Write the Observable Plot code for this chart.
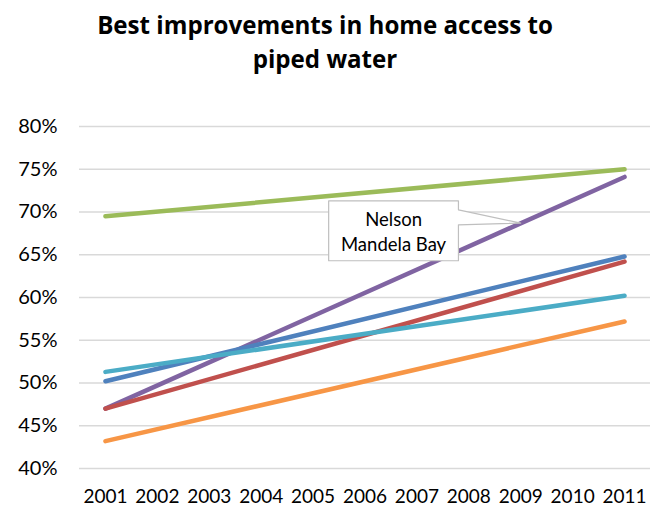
<!DOCTYPE html>
<html>
<head>
<meta charset="utf-8">
<script src="https://cdn.jsdelivr.net/npm/d3@7"></script>
<script src="https://cdn.jsdelivr.net/npm/@observablehq/plot@0.6"></script>
<style>
  body { margin: 0; background: #fff; }
  #wrap { width: 655px; height: 508px; position: relative; overflow: hidden; }
  #title { position: absolute; left: 0; top: 8px; width: 650px; text-align: center;
    font-family: "Open Sans", sans-serif; font-weight: bold; color: #000; line-height: 34px; }
  #chart { position: absolute; left: 0; top: 95px; }
</style>
</head>
<body>
<div id="wrap">
  <div id="title"><span id="t1">Best improvements in home access to</span><br><span>piped water</span></div>
  <div id="chart"></div>
</div>
<script>
// ---- data ----
const years = [2001, 2002, 2003, 2004, 2005, 2006, 2007, 2008, 2009, 2010, 2011];
const seriesNames = ["Green", "Nelson Mandela Bay", "Blue", "Red", "Cyan", "Orange"];
const seriesColors = ["#9BBB59", "#8064A2", "#4F81BD", "#C0504D", "#4BACC6", "#F79646"];
const values2001 = [69.5, 47.0, 50.2, 47.0, 51.3, 43.2];
const values2011 = [75.0, 74.1, 64.8, 64.2, 60.2, 57.2];
const yTicks = [40, 45, 50, 55, 60, 65, 70, 75, 80];
const calloutText = "Nelson\nMandela Bay";
// callout outline in data coordinates (year, %)
const calloutX = [2005.3, 2007.8, 2007.8, 2009.0, 2007.8, 2007.8, 2005.3, 2005.3];
const calloutY = [71.3, 71.3, 70.25, 68.7, 68.5, 64.3, 64.3, 71.3];

// fit title width
(function(){
  const c = document.createElement("canvas").getContext("2d");
  c.font = 'bold 20px "Open Sans"';
  const w = c.measureText(document.getElementById("t1").textContent).width;
  document.getElementById("title").style.fontSize = (20 * 456 / w).toFixed(2) + "px";
})();

const lineData = [];
seriesNames.forEach((s, i) => {
  lineData.push({series: s, year: years[0], value: values2001[i]});
  lineData.push({series: s, year: years[years.length - 1], value: values2011[i]});
});
const callout = calloutX.map((x, i) => ({x, y: calloutY[i]}));

const plot = Plot.plot({
  width: 655,
  height: 413,
  marginTop: 31,
  marginBottom: 40,
  marginLeft: 79,
  marginRight: 5,
  style: {fontFamily: "Lato, sans-serif", fontSize: "19px", color: "#000", background: "#fff"},
  x: {domain: [2000.5, 2011.5], ticks: years, tickFormat: d => String(d), tickSize: 0, tickPadding: 21, label: null},
  y: {domain: [40, 80], ticks: yTicks, tickFormat: d => d + "%", tickSize: 0, tickPadding: 22, label: null},
  color: {domain: seriesNames, range: seriesColors},
  marks: [
    Plot.ruleY(yTicks, {stroke: "#D9D9D9", strokeWidth: 1.5}),
    Plot.line(lineData, {x: "year", y: "value", z: "series", stroke: "series", strokeWidth: 4.5, strokeLinecap: "round", strokeLinejoin: "round"}),
    Plot.line(callout, {x: "x", y: "y", fill: "#fff", stroke: "#BFBFBF", strokeWidth: 1.2, curve: "linear-closed"}),
    Plot.text([calloutText], {x: [2006.55], y: [67.8], text: d => d, fontSize: 18.5, lineHeight: 1.35, fill: "#000"}),
    Plot.axisX({ticks: years, tickFormat: d => String(d), tickSize: 0, tickPadding: 21, fontSize: 19, label: null}),
    Plot.axisY({ticks: yTicks, tickFormat: d => d + "%", tickSize: 0, tickPadding: 22, fontSize: 20, label: null})
  ]
});
document.getElementById("chart").appendChild(plot);
</script>
</body>
</html>
